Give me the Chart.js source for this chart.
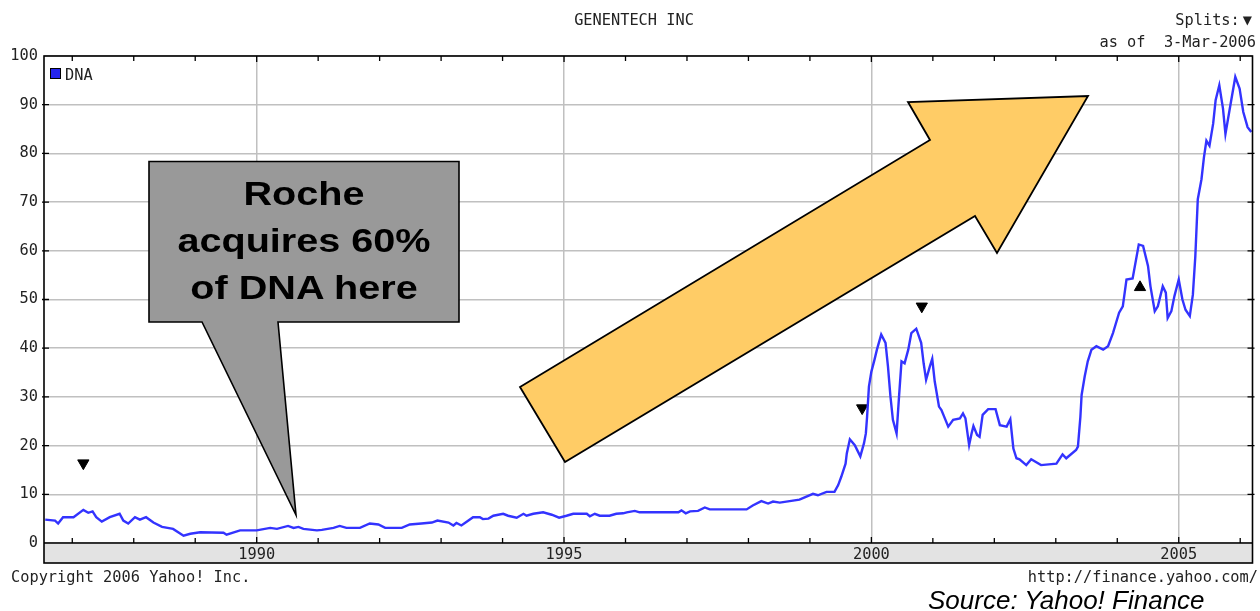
<!DOCTYPE html>
<html>
<head>
<meta charset="utf-8">
<script src="https://cdn.jsdelivr.net/npm/chart.js@4.4.0/dist/chart.umd.min.js"></script>
<style>
    html, body { margin: 0; padding: 0; background: #fff; }
    #wrap { position: relative; width: 1260px; height: 611px; overflow: hidden; }
    #chart { position: absolute; left: 0; top: 0; }
    .mono { position: absolute; font-family: 'DejaVu Sans Mono', monospace; font-size: 15.3px; line-height: 18px; color: #222; white-space: pre; }
    #title { left: 634px; top: 11px; transform: translateX(-50%); }
    #splits { right: 8px; top: 11px; }
    #asof { right: 4px; top: 33px; }
    #copy { left: 11px; top: 568px; }
    #url { right: 2px; top: 568px; }
    #legend { left: 50px; top: 66px; }
    #legend span { display: inline-block; width: 9px; height: 9px; background: #2424ee; border: 1px solid #000; margin-right: 4px; vertical-align: 1px; }
    #source { position: absolute; left: 928px; top: 585px; font-family: 'Liberation Sans', Arial, sans-serif; font-style: italic; font-size: 26px; line-height: 30px; color: #000; white-space: nowrap; }
    #callout { position: absolute; left: 149px; top: 169.5px; width: 310px; text-align: center; font-family: 'Liberation Sans', Arial, sans-serif; font-weight: bold; font-size: 33px; line-height: 47px; color: #000; transform: scaleX(1.2); transform-origin: center; }
</style>
</head>
<body>
<div id="wrap">
    <canvas id="chart" width="1260" height="611"></canvas>
    <div class="mono" id="title">GENENTECH INC</div>
    <div class="mono" id="splits">Splits:<span style="margin-left:3px">▼</span></div>
    <div class="mono" id="asof">as of  3-Mar-2006</div>
    <div class="mono" id="legend"><span></span>DNA</div>
    <div class="mono" id="copy">Copyright 2006 Yahoo! Inc.</div>
    <div class="mono" id="url">http://finance.yahoo.com/</div>
    <div id="source">Source: Yahoo! Finance</div>
    <div id="callout">Roche<br>acquires 60%<br>of DNA here</div>
</div>
<script>
// DNA closing price (decimal year, dollars)
const years = [
    1986.56, 1986.72, 1986.77, 1986.85, 1987.02, 1987.18, 1987.26, 1987.33, 1987.39, 1987.48,
    1987.61, 1987.77, 1987.83, 1987.91, 1988.02, 1988.10, 1988.20, 1988.32, 1988.46, 1988.64,
    1988.81, 1988.92, 1989.08, 1989.46, 1989.51, 1989.73, 1990.00, 1990.22, 1990.33, 1990.51,
    1990.60, 1990.68, 1990.76, 1990.98, 1991.06, 1991.25, 1991.35, 1991.46, 1991.68,
    1991.84, 1991.98, 1992.09, 1992.36, 1992.49, 1992.68, 1992.85, 1992.94, 1993.12, 1993.20,
    1993.25, 1993.33, 1993.41, 1993.52, 1993.63, 1993.68, 1993.77, 1993.85, 1994.01, 1994.09,
    1994.23, 1994.34, 1994.39, 1994.50, 1994.66, 1994.80, 1994.92, 1995.04, 1995.15, 1995.37,
    1995.42, 1995.50, 1995.58, 1995.74, 1995.85, 1995.96, 1996.02, 1996.15, 1996.23, 1996.86,
    1996.91, 1996.98, 1997.05, 1997.18, 1997.29, 1997.37, 1997.97, 1998.07, 1998.21, 1998.32,
    1998.40, 1998.51,
    1998.83, 1999.05, 1999.13, 1999.27, 1999.40, 1999.46, 1999.51, 1999.58, 1999.60, 1999.65,
    1999.73, 1999.82, 1999.88, 1999.91, 1999.93, 1999.96, 2000.00, 2000.05, 2000.09, 2000.16,
    2000.23, 2000.27, 2000.31, 2000.35, 2000.41, 2000.45, 2000.49, 2000.54, 2000.60, 2000.65,
    2000.73, 2000.81, 2000.85, 2000.89, 2000.95, 2000.99, 2001.03, 2001.10,
    2001.14, 2001.25, 2001.33, 2001.44, 2001.49, 2001.53, 2001.59, 2001.63, 2001.66, 2001.72,
    2001.76, 2001.81, 2001.90, 2002.02, 2002.09, 2002.20, 2002.26, 2002.31, 2002.36, 2002.41,
    2002.52, 2002.60, 2002.76, 2003.01, 2003.11, 2003.17, 2003.33, 2003.36, 2003.40, 2003.42,
    2003.47, 2003.52, 2003.58, 2003.66, 2003.77, 2003.85, 2003.93, 2004.03,
    2004.09, 2004.15, 2004.25, 2004.35, 2004.42, 2004.50, 2004.54, 2004.61, 2004.66, 2004.74,
    2004.79, 2004.82, 2004.88, 2004.93, 2005.00, 2005.06, 2005.11, 2005.18, 2005.23, 2005.27,
    2005.31, 2005.37, 2005.41, 2005.45, 2005.50, 2005.56, 2005.60, 2005.66, 2005.72, 2005.76,
    2005.84, 2005.92, 2005.99, 2006.05, 2006.12, 2006.18
];
const prices = [
    4.8, 4.6, 4.0, 5.3, 5.3, 6.8, 6.2, 6.5, 5.3, 4.4,
    5.3, 6.0, 4.6, 4.0, 5.3, 4.8, 5.3, 4.2, 3.3, 2.9,
    1.5, 1.9, 2.2, 2.1, 1.7, 2.6, 2.6, 3.1, 2.9, 3.5,
    3.1, 3.3, 2.9, 2.6, 2.7, 3.1, 3.5, 3.1, 3.1,
    4.0, 3.8, 3.1, 3.1, 3.8, 4.0, 4.2, 4.6, 4.2, 3.6,
    4.1, 3.6, 4.3, 5.3, 5.3, 4.9, 5.0, 5.6, 6.0, 5.6,
    5.2, 6.0, 5.6, 6.0, 6.3, 5.8, 5.2, 5.6, 6.0, 6.0,
    5.5, 6.0, 5.6, 5.6, 6.0, 6.1, 6.3, 6.6, 6.3, 6.3,
    6.7, 6.1, 6.5, 6.6, 7.3, 6.9, 6.9, 7.7, 8.6, 8.1,
    8.5, 8.3,
    8.9, 10.1, 9.8, 10.5, 10.5, 11.9, 13.6, 16.3, 18.4, 21.3,
    20.1, 17.8, 20.5, 22.5, 25.9, 32.1, 35.2, 37.6, 39.7, 42.8,
    41.1, 36.2, 30.1, 25.3, 22.5, 30.1, 37.3, 36.9, 39.7, 43.1,
    44.0, 41.1, 36.9, 33.5, 36.2, 37.8, 33.2, 28.0,
    27.3, 23.9, 25.3, 25.6, 26.6, 25.6, 20.1, 22.5, 24.0, 22.2,
    21.8, 26.3, 27.5, 27.5, 24.2, 23.9, 25.4, 19.4, 17.4, 17.2,
    16.0, 17.2, 16.0, 16.3, 18.2, 17.4, 19.1, 19.8, 25.9, 30.4,
    34.2, 37.3, 39.7, 40.4, 39.7, 40.4, 43.1, 47.3,
    48.6, 54.1, 54.3, 61.3, 61.0, 56.9, 52.7, 47.6, 48.6, 52.7,
    51.4, 46.2, 47.6, 50.7, 54.1, 50.0, 47.9, 46.6, 51.0, 58.9,
    70.6, 74.7, 79.2, 82.6, 81.6, 86.1, 90.9, 94.0, 89.2, 84.0,
    89.9, 95.7, 93.3, 88.5, 85.4, 84.4
];

// split markers (down = split, up = other event)
const splitYears = [1987.18, 1999.85, 2000.82, 2004.37];
const splitLevels = [16.4, 27.7, 48.6, 52.5];
const splitRotation = [180, 180, 180, 0];

// axes
const yearTicks = [1987, 1988, 1989, 1990, 1991, 1992, 1993, 1994, 1995, 1996,
                   1997, 1998, 1999, 2000, 2001, 2002, 2003, 2004, 2005, 2006];
const labeledYears = [1990, 1995, 2000, 2005];
const xMin = 1986.54;
const xMax = 2006.20;
const yMin = 0;
const yMax = 100;

const monoFont = { family: "'DejaVu Sans Mono', monospace", size: 15.3 };

const frame = {
    id: 'frame',
    beforeDraw(chart) {
        const { ctx, chartArea: a } = chart;
        ctx.save();
        ctx.fillStyle = '#e3e3e3';
        ctx.fillRect(a.left, a.bottom, a.right - a.left, 20);
        ctx.restore();
    },
    afterDatasetsDraw(chart) {
        const { ctx, chartArea: a, scales } = chart;
        ctx.save();
        ctx.strokeStyle = '#000';
        ctx.lineWidth = 1.6;
        ctx.strokeRect(a.left, a.top, a.right - a.left, a.bottom - a.top + 20);
        ctx.beginPath();
        ctx.moveTo(a.left, a.bottom);
        ctx.lineTo(a.right, a.bottom);
        ctx.stroke();

        ctx.lineWidth = 1.3;
        ctx.beginPath();
        yearTicks.forEach(yr => {
            const px = scales.x.getPixelForValue(yr);
            const len = labeledYears.includes(yr) ? 6 : 5;
            ctx.moveTo(px, a.bottom);
            ctx.lineTo(px, a.bottom - len);
            ctx.moveTo(px, a.top);
            ctx.lineTo(px, a.top + len);
        });
        for (let v = 10; v < yMax; v += 10) {
            const py = scales.y.getPixelForValue(v);
            ctx.moveTo(a.left - 2, py);
            ctx.lineTo(a.left + 5, py);
            ctx.moveTo(a.right - 5, py);
            ctx.lineTo(a.right + 2, py);
        }
        ctx.stroke();
        ctx.restore();
    },
    afterDraw(chart) {
        const ctx = chart.ctx;
        ctx.save();
        ctx.lineJoin = 'miter';
        ctx.strokeStyle = '#000';

        // big orange arrow
        ctx.beginPath();
        ctx.moveTo(520, 387);
        ctx.lineTo(930, 140);
        ctx.lineTo(908, 102);
        ctx.lineTo(1088, 96);
        ctx.lineTo(997, 253);
        ctx.lineTo(975, 216);
        ctx.lineTo(565, 462);
        ctx.closePath();
        ctx.fillStyle = '#ffcc66';
        ctx.fill();
        ctx.lineWidth = 1.8;
        ctx.stroke();

        // grey callout
        ctx.beginPath();
        ctx.moveTo(149, 161.5);
        ctx.lineTo(459, 161.5);
        ctx.lineTo(459, 322);
        ctx.lineTo(278, 322);
        ctx.lineTo(296, 515);
        ctx.lineTo(202, 322);
        ctx.lineTo(149, 322);
        ctx.closePath();
        ctx.fillStyle = '#999999';
        ctx.fill();
        ctx.lineWidth = 1.6;
        ctx.stroke();
        ctx.restore();
    }
};

const ctx = document.getElementById('chart').getContext('2d');
new Chart(ctx, {
    type: 'scatter',
    data: {
        datasets: [
            {
                label: 'DNA',
                data: years.map((yr, i) => ({ x: yr, y: prices[i] })),
                showLine: true,
                borderColor: '#3333ff',
                backgroundColor: '#2424ee',
                borderWidth: 2.4,
                pointRadius: 0,
                tension: 0
            },
            {
                label: 'splits',
                data: splitYears.map((yr, i) => ({ x: yr, y: splitLevels[i] })),
                showLine: false,
                pointStyle: 'triangle',
                pointRadius: 6.5,
                pointRotation: splitRotation,
                pointBackgroundColor: '#000',
                pointBorderColor: '#000',
                pointBorderWidth: 1
            }
        ]
    },
    options: {
        responsive: false,
        devicePixelRatio: 1,
        animation: false,
        events: [],
        layout: { padding: { top: 56, right: 7, bottom: 48, left: 0 } },
        scales: {
            x: {
                type: 'linear',
                min: xMin,
                max: xMax,
                afterBuildTicks: scale => { scale.ticks = yearTicks.map(v => ({ value: v })); },
                afterFit: scale => { scale.height = 20; },
                grid: {
                    color: c => labeledYears.includes(c.tick && c.tick.value) ? '#c0c0c0' : 'rgba(0,0,0,0)',
                    lineWidth: 1.5,
                    drawTicks: false
                },
                border: { display: false },
                ticks: {
                    autoSkip: false,
                    maxRotation: 0,
                    padding: 3,
                    color: '#222',
                    font: monoFont,
                    callback: v => labeledYears.includes(v) ? String(v) : ''
                }
            },
            y: {
                min: yMin,
                max: yMax,
                afterFit: scale => { scale.width = 44; },
                grid: { color: '#c0c0c0', lineWidth: 1.5, drawTicks: false },
                border: { display: false },
                ticks: { stepSize: 10, padding: 6, color: '#222', font: monoFont }
            }
        },
        plugins: {
            tooltip: { enabled: false },
            legend: { display: false }
        }
    },
    plugins: [frame]
});
</script>
</body>
</html>
